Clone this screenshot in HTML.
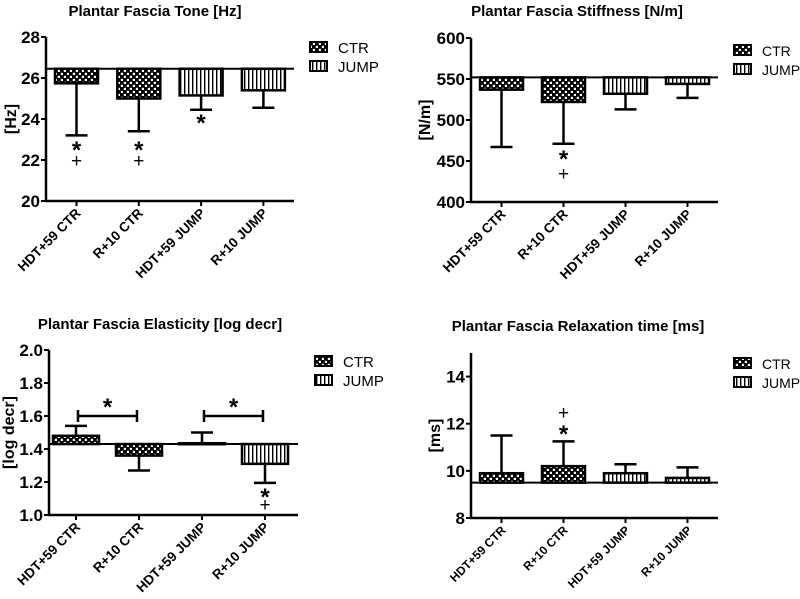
<!DOCTYPE html>
<html><head><meta charset="utf-8"><style>
html,body{margin:0;padding:0;background:#fff}
svg{display:block}
text{font-family:"Liberation Sans",Arial,sans-serif;fill:#000}
</style></head><body>
<svg id="chart" width="800" height="599" viewBox="0 0 800 599" xmlns="http://www.w3.org/2000/svg">
<defs>
<pattern id="chk" width="6" height="6" patternUnits="userSpaceOnUse"><rect width="6" height="6" fill="#000"/><rect x="0.8" y="0.8" width="2.2" height="2.2" fill="#fff"/><rect x="3.8" y="3.8" width="2.2" height="2.2" fill="#fff"/></pattern>
<pattern id="str" width="4" height="4" patternUnits="userSpaceOnUse"><rect width="4" height="4" fill="#fff"/><rect x="0" width="1.4" height="4" fill="#000"/></pattern>
</defs>
</svg>
<script>
const categories = ["HDT+59 CTR","R+10 CTR","HDT+59 JUMP","R+10 JUMP"];
const groups = ["CTR","CTR","JUMP","JUMP"];
const toneMeans = [25.74, 25.0, 25.15, 25.4];
const toneErr = [23.2, 23.4, 24.45, 24.55];
const toneTicks = [20,22,24,26,28];
const stiffMeans = [537, 522, 532, 544];
const stiffErr = [467, 471, 513, 527];
const stiffTicks = [400,450,500,550,600];
const elastMeans = [1.48, 1.36, 1.435, 1.31];
const elastErr = [1.54, 1.27, 1.50, 1.195];
const elastTicks = [1.0,1.2,1.4,1.6,1.8,2.0];
const relaxMeans = [9.9, 10.2, 9.9, 9.7];
const relaxErr = [11.5, 11.25, 10.28, 10.15];
const relaxTicks = [8,10,12,14];

const svg = document.getElementById('chart');
const NS = 'http://www.w3.org/2000/svg';
function mk(tag, attrs, parent){const e=document.createElementNS(NS,tag);for(const k in attrs)e.setAttribute(k,attrs[k]);(parent||svg).appendChild(e);return e;}
function txt(s, attrs, parent, bold){const e=mk('text',attrs,parent);e.setAttribute('font-weight', bold===false?'normal':'bold');e.textContent=s;return e;}

const panels = [
 {key:'tone',title:'Plantar Fascia Tone [Hz]',ylab:'[Hz]',means:toneMeans,errs:toneErr,ticks:toneTicks,base:26.45,min:20,max:28,
  ax:46,top:37,bot:201,xend:294,x0:55,bw:43,step:62.3,titleX:155,titleY:16,legX:310,legY:47,legFs:15,fs:13.5,dec:0,ylabX:16,
  marks:[[0,'*',146],[0,'+',160],[1,'*',146],[1,'+',160],[2,'*',119]]},
 {key:'stiff',title:'Plantar Fascia Stiffness [N/m]',ylab:'[N/m]',means:stiffMeans,errs:stiffErr,ticks:stiffTicks,base:552,min:400,max:600,
  ax:471,top:38,bot:202,xend:718,x0:480,bw:43,step:62,titleX:577,titleY:16,legX:734,legY:50,legFs:14,fs:13.5,dec:0,ylabX:430,
  marks:[[1,'*',155],[1,'+',173]]},
 {key:'elast',title:'Plantar Fascia Elasticity [log decr]',ylab:'[log decr]',means:elastMeans,errs:elastErr,ticks:elastTicks,base:1.43,min:1.0,max:2.0,
  ax:49,top:350,bot:515,xend:298,x0:53,bw:46,step:63,titleX:160,titleY:329,legX:315,legY:361,legFs:15,fs:13.5,dec:1,ylabX:14,
  marks:[[3,'*',493],[3,'+',504]]},
 {key:'relax',title:'Plantar Fascia Relaxation time [ms]',ylab:'[ms]',means:relaxMeans,errs:relaxErr,ticks:relaxTicks,base:9.5,min:8,max:15,
  ax:471,top:353,bot:518,xend:718,x0:480,bw:43,step:62,titleX:578,titleY:331,legX:734,legY:363,legFs:14,fs:12,dec:0,ylabX:440,
  marks:[[1,'+',412],[1,'*',430]]}
];

panels.forEach(p=>{
  const g = mk('g',{});
  
  
  const y = v => p.bot - (v-p.min)/(p.max-p.min)*(p.bot-p.top);
  const t = txt(p.title,{x:p.titleX,y:p.titleY,'text-anchor':'middle','font-size':15},g);
  
  
  p.means.forEach((m,i)=>{
    const x = p.x0 + i*p.step, cx = x + p.bw/2;
    const y1 = y(p.base), y2 = y(m);
    const r = mk('rect',{x:x,y:Math.min(y1,y2),width:p.bw,height:Math.max(Math.abs(y2-y1),1),fill:groups[i]==='CTR'?'url(#chk)':'url(#str)',stroke:'#000','stroke-width':2.5},g);
    
    
    const ey = y(p.errs[i]);
    const e = mk('path',{d:`M${cx} ${y2}V${ey}M${cx-11} ${ey}H${cx+11}`,stroke:'#000','stroke-width':2.5,fill:'none'},g);
    
    
    mk('line',{x1:cx,y1:p.bot,x2:cx,y2:p.bot+5,stroke:'#000','stroke-width':2},g);
    const lx = cx+5, ly = p.bot+13;
    const l = txt(categories[i],{x:lx,y:ly,'text-anchor':'end','font-size':p.fs,transform:`rotate(-45 ${lx} ${ly})`},g);
    
    
  });
  const bl = mk('line',{x1:p.ax,y1:y(p.base),x2:p.xend,y2:y(p.base),stroke:'#000','stroke-width':2},g);
  
  
  mk('path',{d:`M${p.ax} ${p.top}V${p.bot}H${p.xend}`,stroke:'#000','stroke-width':2.5,fill:'none'},g);
  p.ticks.forEach(v=>{
    mk('line',{x1:p.ax-5,y1:y(v),x2:p.ax,y2:y(v),stroke:'#000','stroke-width':2},g);
    const tl = txt(v.toFixed(p.dec),{x:p.ax-6,y:y(v)+6,'text-anchor':'end','font-size':17},g);
    
    
  });
  const yl = txt(p.ylab,{x:p.ylabX,y:(p.top+p.bot)/2,'text-anchor':'middle','font-size':16,transform:`rotate(-90 ${p.ylabX} ${(p.top+p.bot)/2})`},g);
  
  
  p.marks.forEach(([i,s,my])=>{
    const cx = p.x0 + i*p.step + p.bw/2;
    const m = txt(s,{x:cx,y:my+(s==='*'?12:7),'text-anchor':'middle','font-size':s==='*'?24:19},g, s==='*');
    
    
  });
  ['CTR','JUMP'].forEach((n,k)=>{
    const ly = p.legY + k*19;
    const lg = mk('g',{},g);
    
    
    mk('rect',{x:p.legX,y:ly-5,width:17,height:10,fill:n==='CTR'?'url(#chk)':'url(#str)',stroke:'#000','stroke-width':2},lg);
    txt(n,{x:p.legX+28,y:ly+6,'font-size':p.legFs},lg,false);
  });
});

const bracketPairs = [[0,1],[2,3]];
const bracketLevel = 1.6;
(function(){
  const p = panels[2];
  const y = v => p.bot - (v-p.min)/(p.max-p.min)*(p.bot-p.top);
  bracketPairs.forEach(([a,b],k)=>{
    const xa = p.x0 + a*p.step + p.bw/2 + 2, xb = p.x0 + b*p.step + p.bw/2 - 2;
    const yy = y(bracketLevel);
    const br = mk('path',{d:`M${xa} ${yy-6}V${yy+6}M${xa} ${yy}H${xb}M${xb} ${yy-6}V${yy+6}`,stroke:'#000','stroke-width':2.5,fill:'none'});
    
    
    const s = txt('*',{x:(xa+xb)/2,y:yy-1,'text-anchor':'middle','font-size':24});
    
    
  });
})();
</script>
</body></html>
